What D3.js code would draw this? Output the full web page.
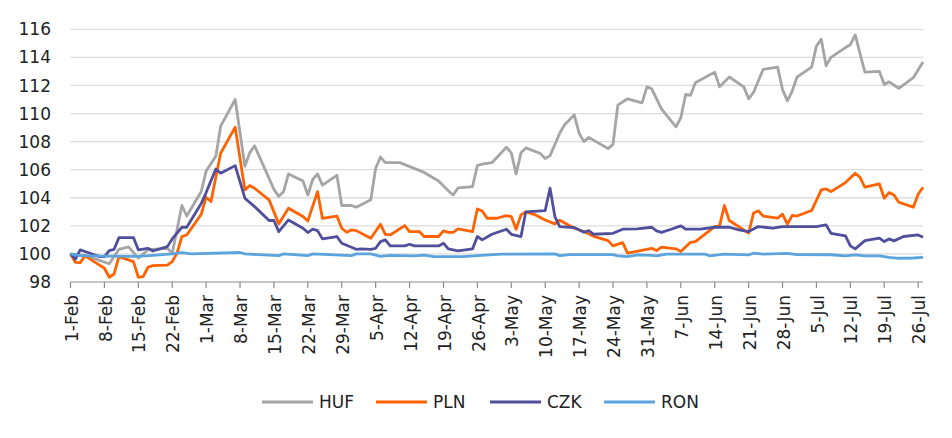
<!DOCTYPE html>
<html>
<head>
<meta charset="utf-8">
<script src="https://cdn.jsdelivr.net/npm/d3@7"></script>
<style>
  body { margin: 0; background: #fff; }
  text { font-family: "DejaVu Sans", sans-serif; fill: #222; }
</style>
</head>
<body>
<svg id="chart" width="952" height="438"></svg>
<script>
// y axis ticks
const yTicks = [98, 100, 102, 104, 106, 108, 110, 112, 114, 116];
const startDate = "2021-02-01";
const endDate = "2021-07-27";

const seriesNames = ["HUF", "PLN", "CZK", "RON"];
const seriesColors = ["#a5a5a5", "#ff6200", "#4f4f9c", "#5ba4de"];

// values (date, index)
const huf = [
  ["2021-02-01",100.0],["2021-02-04",99.9],["2021-02-09",99.3],["2021-02-11",100.33],
  ["2021-02-13",100.5],["2021-02-15",99.7],["2021-02-17",100.3],["2021-02-21",100.4],
  ["2021-02-22",100.05],["2021-02-24",103.45],["2021-02-25",102.7],["2021-02-28",104.45],
  ["2021-03-01",105.9],["2021-03-03",106.95],["2021-03-04",109.1],["2021-03-07",111.0],
  ["2021-03-09",106.24],["2021-03-10",107.2],["2021-03-11",107.7],["2021-03-15",104.6],
  ["2021-03-16",104.1],["2021-03-17",104.45],["2021-03-18",105.7],["2021-03-21",105.2],
  ["2021-03-22",104.2],["2021-03-23",105.3],["2021-03-24",105.7],["2021-03-25",104.9],
  ["2021-03-28",105.6],["2021-03-29",103.45],["2021-03-31",103.45],["2021-04-01",103.33],
  ["2021-04-04",103.86],["2021-04-05",106.1],["2021-04-06",106.9],["2021-04-07",106.5],
  ["2021-04-10",106.5],["2021-04-14",105.95],["2021-04-15",105.8],["2021-04-18",105.2],
  ["2021-04-20",104.5],["2021-04-21",104.2],["2021-04-22",104.7],["2021-04-25",104.8],
  ["2021-04-26",106.3],["2021-04-27",106.4],["2021-04-29",106.5],["2021-05-02",107.6],
  ["2021-05-03",107.2],["2021-05-04",105.7],["2021-05-05",107.2],["2021-05-06",107.55],
  ["2021-05-09",107.15],["2021-05-10",106.8],["2021-05-11",107.0],["2021-05-13",108.6],
  ["2021-05-14",109.2],["2021-05-16",109.9],["2021-05-17",108.6],["2021-05-18",108.0],
  ["2021-05-19",108.3],["2021-05-23",107.5],["2021-05-24",107.8],["2021-05-25",110.6],
  ["2021-05-27",111.05],["2021-05-30",110.76],["2021-05-31",111.9],["2021-06-01",111.76],
  ["2021-06-03",110.33],["2021-06-06",109.05],["2021-06-07",109.7],["2021-06-08",111.36],
  ["2021-06-09",111.3],["2021-06-10",112.2],["2021-06-14",112.95],["2021-06-15",111.9],
  ["2021-06-17",112.6],["2021-06-20",111.9],["2021-06-21",111.05],["2021-06-22",111.5],
  ["2021-06-24",113.14],["2021-06-27",113.3],["2021-06-28",111.7],["2021-06-29",110.9],
  ["2021-06-30",111.6],["2021-07-01",112.6],["2021-07-04",113.3],["2021-07-05",114.8],
  ["2021-07-06",115.3],["2021-07-07",113.4],["2021-07-08",114.0],["2021-07-11",114.7],
  ["2021-07-12",114.9],["2021-07-13",115.6],["2021-07-15",112.95],["2021-07-18",113.0],
  ["2021-07-19",112.07],["2021-07-20",112.26],["2021-07-22",111.8],["2021-07-25",112.55],
  ["2021-07-27",113.67]
];

const pln = [
  ["2021-02-01",100.0],["2021-02-02",99.4],["2021-02-03",99.38],["2021-02-04",99.86],
  ["2021-02-07",99.2],["2021-02-08",98.98],["2021-02-09",98.34],["2021-02-10",98.57],
  ["2021-02-11",99.81],["2021-02-14",99.45],["2021-02-15",98.34],["2021-02-16",98.38],
  ["2021-02-17",99.05],["2021-02-18",99.17],["2021-02-21",99.2],["2021-02-22",99.45],
  ["2021-02-23",100.05],["2021-02-24",101.24],["2021-02-25",101.35],["2021-02-28",102.83],
  ["2021-03-01",104.04],["2021-03-02",103.73],["2021-03-04",107.17],["2021-03-07",109.03],
  ["2021-03-09",104.56],["2021-03-10",104.87],["2021-03-11",104.68],["2021-03-14",103.85],
  ["2021-03-16",102.14],["2021-03-18",103.25],["2021-03-21",102.66],["2021-03-22",102.35],
  ["2021-03-24",104.44],["2021-03-25",102.54],["2021-03-28",102.7],["2021-03-29",101.83],
  ["2021-03-30",101.54],["2021-03-31",101.71],["2021-04-01",101.66],["2021-04-04",101.12],
  ["2021-04-06",102.11],["2021-04-07",101.4],["2021-04-08",101.35],["2021-04-11",102.02],
  ["2021-04-12",101.59],["2021-04-14",101.59],["2021-04-15",101.24],["2021-04-18",101.24],
  ["2021-04-19",101.64],["2021-04-20",101.54],["2021-04-21",101.54],["2021-04-22",101.78],
  ["2021-04-25",101.59],["2021-04-26",103.2],["2021-04-27",103.06],["2021-04-28",102.54],
  ["2021-04-30",102.54],["2021-05-02",102.73],["2021-05-03",102.66],["2021-05-04",101.76],
  ["2021-05-05",102.78],["2021-05-06",103.0],["2021-05-08",102.78],["2021-05-10",102.42],
  ["2021-05-12",102.14],["2021-05-13",102.4],["2021-05-16",101.83],["2021-05-18",101.6],
  ["2021-05-20",101.25],["2021-05-23",100.95],["2021-05-24",100.57],["2021-05-26",100.8],
  ["2021-05-27",100.05],["2021-06-01",100.4],["2021-06-02",100.24],["2021-06-03",100.48],
  ["2021-06-06",100.36],["2021-06-07",100.17],["2021-06-09",100.83],["2021-06-10",100.88],
  ["2021-06-14",101.95],["2021-06-15",102.0],["2021-06-16",103.45],["2021-06-17",102.38],
  ["2021-06-21",101.48],["2021-06-22",102.9],["2021-06-23",103.07],["2021-06-24",102.7],
  ["2021-06-27",102.55],["2021-06-28",102.83],["2021-06-29",102.12],["2021-06-30",102.74],
  ["2021-07-01",102.7],["2021-07-04",103.09],["2021-07-06",104.56],["2021-07-07",104.63],
  ["2021-07-08",104.44],["2021-07-11",105.08],["2021-07-13",105.75],["2021-07-14",105.46],
  ["2021-07-15",104.75],["2021-07-18",104.99],["2021-07-19",103.97],["2021-07-20",104.37],
  ["2021-07-21",104.2],["2021-07-22",103.68],["2021-07-25",103.33],["2021-07-26",104.25],
  ["2021-07-27",104.75]
];

const czk = [
  ["2021-02-01",100.0],["2021-02-02",99.62],["2021-02-03",100.29],["2021-02-04",100.17],
  ["2021-02-07",99.81],["2021-02-08",99.81],["2021-02-09",100.24],["2021-02-10",100.33],
  ["2021-02-11",101.16],["2021-02-14",101.16],["2021-02-15",100.29],["2021-02-17",100.4],
  ["2021-02-18",100.21],["2021-02-21",100.52],["2021-02-22",101.07],["2021-02-24",101.9],
  ["2021-02-25",101.9],["2021-02-28",103.6],["2021-03-01",104.37],["2021-03-03",106.05],
  ["2021-03-04",105.75],["2021-03-07",106.29],["2021-03-09",103.97],["2021-03-11",103.37],
  ["2021-03-14",102.38],["2021-03-15",102.38],["2021-03-16",101.59],["2021-03-18",102.42],
  ["2021-03-21",101.83],["2021-03-22",101.52],["2021-03-23",101.76],["2021-03-24",101.66],
  ["2021-03-25",101.07],["2021-03-28",101.24],["2021-03-29",100.76],["2021-04-01",100.33],
  ["2021-04-02",100.36],["2021-04-04",100.33],["2021-04-05",100.4],["2021-04-06",100.88],
  ["2021-04-07",101.0],["2021-04-08",100.57],["2021-04-11",100.57],["2021-04-12",100.69],
  ["2021-04-13",100.57],["2021-04-18",100.57],["2021-04-19",100.76],["2021-04-20",100.36],
  ["2021-04-22",100.21],["2021-04-25",100.36],["2021-04-26",101.24],["2021-04-27",101.0],
  ["2021-04-29",101.4],["2021-05-02",101.76],["2021-05-03",101.4],["2021-05-05",101.24],
  ["2021-05-06",103.0],["2021-05-10",103.09],["2021-05-11",104.68],["2021-05-12",102.66],
  ["2021-05-13",101.95],["2021-05-16",101.88],["2021-05-18",101.54],["2021-05-19",101.66],
  ["2021-05-20",101.4],["2021-05-24",101.47],["2021-05-26",101.76],["2021-05-29",101.78],
  ["2021-06-01",101.9],["2021-06-02",101.64],["2021-06-03",101.54],["2021-06-05",101.76],
  ["2021-06-07",102.0],["2021-06-08",101.76],["2021-06-11",101.76],["2021-06-14",101.9],
  ["2021-06-17",101.9],["2021-06-19",101.71],["2021-06-21",101.59],["2021-06-23",101.95],
  ["2021-06-26",101.83],["2021-06-28",101.95],["2021-07-01",101.95],["2021-07-05",101.95],
  ["2021-07-07",102.07],["2021-07-08",101.47],["2021-07-11",101.28],["2021-07-12",100.57],
  ["2021-07-13",100.36],["2021-07-15",100.95],["2021-07-18",101.12],["2021-07-19",100.88],
  ["2021-07-20",101.07],["2021-07-21",100.93],["2021-07-23",101.24],["2021-07-26",101.35],
  ["2021-07-27",101.19]
];

const ron = [
  ["2021-02-01",100.0],["2021-02-03",99.88],["2021-02-08",99.85],["2021-02-15",99.82],
  ["2021-02-18",99.9],["2021-02-22",100.0],["2021-02-24",100.1],["2021-02-26",100.0],
  ["2021-03-08",100.1],["2021-03-09",100.0],["2021-03-16",99.88],["2021-03-17",100.0],
  ["2021-03-22",99.88],["2021-03-23",100.0],["2021-03-31",99.88],["2021-04-01",100.0],
  ["2021-04-04",100.0],["2021-04-06",99.82],["2021-04-08",99.9],["2021-04-13",99.86],
  ["2021-04-15",99.92],["2021-04-17",99.81],["2021-04-23",99.81],["2021-04-26",99.88],
  ["2021-05-01",99.98],["2021-05-12",100.0],["2021-05-13",99.88],["2021-05-15",99.95],
  ["2021-05-24",99.95],["2021-05-25",99.86],["2021-05-27",99.81],["2021-05-29",99.93],
  ["2021-06-01",99.9],["2021-06-02",99.86],["2021-06-04",99.98],["2021-06-12",99.98],
  ["2021-06-13",99.86],["2021-06-16",99.98],["2021-06-21",99.93],["2021-06-22",100.05],
  ["2021-06-24",99.98],["2021-06-29",100.04],["2021-07-01",99.95],["2021-07-08",99.94],
  ["2021-07-11",99.86],["2021-07-13",99.93],["2021-07-15",99.86],["2021-07-18",99.86],
  ["2021-07-20",99.76],["2021-07-22",99.69],["2021-07-25",99.71],["2021-07-27",99.76]
];

const svg = d3.select("#chart");
const parseDate = d3.timeParse("%Y-%m-%d");

const plotLeft = 70.5, plotRight = 923, plotTop = 29.3, plotBottom = 282;

const x = d3.scaleTime()
  .domain([parseDate(startDate), parseDate(endDate)])
  .range([plotLeft, plotRight]);

const y = d3.scaleLinear()
  .domain([98, 116])
  .range([plotBottom, plotTop]);

// gridlines
svg.append("g")
  .selectAll("line")
  .data(yTicks.filter((d) => d !== 98))
  .enter()
  .append("line")
  .attr("x1", plotLeft)
  .attr("x2", plotRight)
  .attr("y1", (d) => y(d))
  .attr("y2", (d) => y(d))
  .attr("stroke", "#dcdcdc")
  .attr("stroke-width", 1.3);

// y labels
svg.append("g")
  .selectAll("text")
  .data(yTicks)
  .enter()
  .append("text")
  .attr("x", 51)
  .attr("y", (d) => y(d))
  .attr("dy", "0.36em")
  .attr("text-anchor", "end")
  .attr("font-size", 17)
  .text((d) => d);

// x axis
const xTicks = d3.timeMonday.range(parseDate(startDate), d3.timeDay.offset(parseDate(endDate), 1));
const fmt = d3.timeFormat("%-d-%b");

const xAxis = svg.append("g");
xAxis.append("line")
  .attr("x1", plotLeft).attr("x2", plotRight)
  .attr("y1", plotBottom).attr("y2", plotBottom)
  .attr("stroke", "#8c8c8c")
  .attr("stroke-width", 1.2);

xAxis.selectAll(".tick")
  .data(xTicks)
  .enter()
  .append("line")
  .attr("x1", (d) => x(d)).attr("x2", (d) => x(d))
  .attr("y1", plotBottom).attr("y2", plotBottom + 6)
  .attr("stroke", "#8c8c8c")
  .attr("stroke-width", 1.2);

xAxis.selectAll(".lab")
  .data(xTicks)
  .enter()
  .append("text")
  .attr("transform", (d) => `translate(${x(d)},295) rotate(-90)`)
  .attr("dy", "0.42em")
  .attr("text-anchor", "end")
  .attr("font-size", 17)
  .text((d) => fmt(d));

// lines
const line = d3.line()
  .x((d) => x(parseDate(d[0])))
  .y((d) => y(d[1]));

const allSeries = [huf, pln, czk, ron];
svg.append("g")
  .selectAll("path")
  .data(allSeries)
  .enter()
  .append("path")
  .attr("d", (d) => line(d))
  .attr("fill", "none")
  .attr("stroke", (d, i) => seriesColors[i])
  .attr("stroke-width", 2.8)
  .attr("stroke-linejoin", "round");

// legend
const legend = svg.append("g").attr("transform", "translate(262,402)");
const items = legend.selectAll("g")
  .data(seriesNames)
  .enter()
  .append("g")
  .attr("transform", (d, i) => `translate(${i * 114},0)`);

items.append("line")
  .attr("x1", 0).attr("x2", 51)
  .attr("stroke", (d, i) => seriesColors[i])
  .attr("stroke-width", 3);

items.append("text")
  .attr("x", 57)
  .attr("dy", "0.36em")
  .attr("font-size", 17)
  .text((d) => d);
</script>
</body>
</html>
